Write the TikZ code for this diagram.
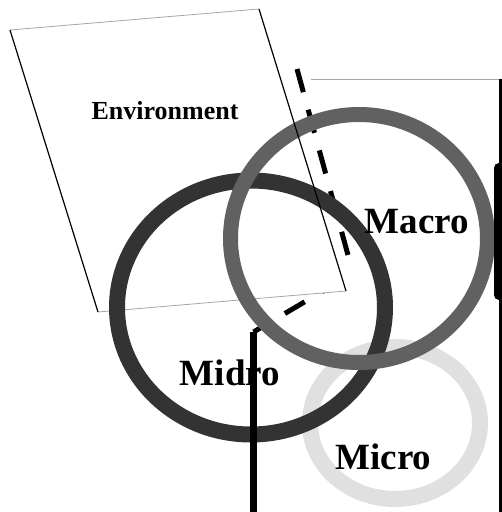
\documentclass[tikz,border=0pt]{standalone}
\usepackage{fontspec}
\setmainfont{Liberation Serif}
\begin{document}
\begin{tikzpicture}[x=1pt,y=-1pt,
  ring/.style={line width=#1},
  ringlabel/.style={font=\bfseries\fontsize{37}{40}\selectfont, anchor=base, inner sep=0pt},
  thinedge/.style={draw=black!35, line width=0.8pt},
  sideedge/.style={draw=black, line width=1.2pt},
  dashlink/.style={line width=5pt, draw=black}]
\useasboundingbox (0,0) rectangle (502,512);

% corner points of the environment panel
\coordinate (envA) at (10,30);
\coordinate (envB) at (259,9);
\coordinate (envC) at (346,291);
\coordinate (envD) at (98,312);

% dashed link and its anchor points
\coordinate (linkTop) at (297,69);
\coordinate (linkMid) at (348,255);
\coordinate (linkIn) at (340,281);
\coordinate (stemTop) at (253.5,332);
\coordinate (stemBot) at (253.5,512);

\draw[dashlink, dash pattern=on 24pt off 18.2pt] (linkTop) -- (linkMid);
\draw[dashlink, dash pattern=on 21pt off 20pt on 23pt off 27pt on 30pt off 5pt] (linkIn) -- (stemTop);

% environment panel
\fill[white] (envA) -- (envB) -- (envC) -- (envD) -- cycle;
\draw[thinedge] (envA) -- (envB);
\draw[thinedge] (envC) -- (envD);

% frame on the right
\coordinate (frameL) at (311,79);
\coordinate (frameTR) at (501,79);
\coordinate (frameBR) at (501,512);
\draw[thinedge] (frameL) -- (frameTR);

% the three levels
\draw[ring=16pt, draw=black!12] (395,423) ellipse [x radius=85pt, y radius=76pt];
\draw[ring=16pt, draw=black!80] (251,307.5) ellipse [x radius=134pt, y radius=127pt];
\draw[ring=15pt, draw=black!62] (359,238.5) ellipse [x radius=128.5pt, y radius=124pt];

% side edges of the panel
\draw[sideedge] (envB) -- (envC);
\draw[sideedge] (envD) -- (envA);

% labels
\node[font=\bfseries\fontsize{26}{28}\selectfont, anchor=base, inner sep=0pt] (env) at (165,119) {Environment};
\node[ringlabel] (macro) at (417,233) {Macro};
\node[ringlabel] (midro) at (230,385) {Midro};
\node[ringlabel] (micro) at (383.5,469) {Micro};

% stem and right frame edge
\draw[line width=7.5pt] (stemTop) -- (stemBot);
\draw[line width=4pt] (frameTR) -- (frameBR);
\coordinate (barTop) at (499,168);
\coordinate (barBot) at (499,295);
\draw[line width=10pt, line cap=round] (barTop) -- (barBot);
\end{tikzpicture}
\end{document}
